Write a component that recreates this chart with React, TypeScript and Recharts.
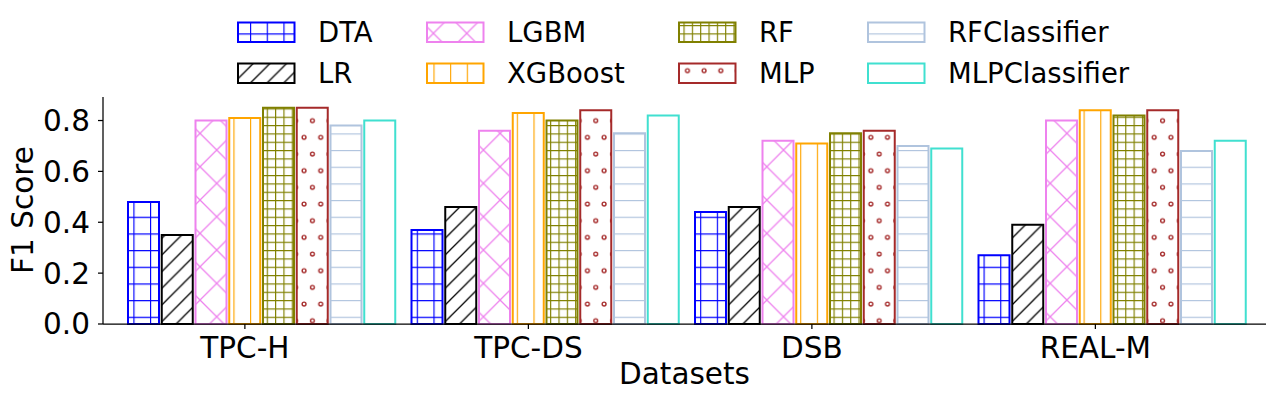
import { BarChart, Bar, XAxis, YAxis } from "recharts";

// categories and series
const datasets = ["TPC-H", "TPC-DS", "DSB", "REAL-M"];
const models = ["DTA", "LR", "LGBM", "XGBoost", "RF", "MLP", "RFClassifier", "MLPClassifier"];

const dta = [0.48, 0.37, 0.44, 0.27];
const lr = [0.35, 0.46, 0.46, 0.39];
const lgbm = [0.8, 0.76, 0.72, 0.8];
const xgboost = [0.81, 0.83, 0.71, 0.84];
const rf = [0.85, 0.8, 0.75, 0.82];
const mlp = [0.85, 0.84, 0.76, 0.84];
const rfClassifier = [0.78, 0.75, 0.7, 0.68];
const mlpClassifier = [0.8, 0.82, 0.69, 0.72];

const yTicks = [0, 0.2, 0.4, 0.6, 0.8];

const series = [dta, lr, lgbm, xgboost, rf, mlp, rfClassifier, mlpClassifier];
const colors = ["#0000ff", "#000000", "#ee82ee", "#ffa500", "#808000", "#a52a2a", "#b0c4de", "#40e0d0"];
const keys = ["dta", "lr", "lgbm", "xgb", "rf", "mlp", "rfc", "mlpc"];

const data = datasets.map((name, i) => {
  const row: Record<string, string | number> = { name };
  keys.forEach((k, j) => {
    row[k] = series[j][i];
  });
  return row;
});

const FONT = "DejaVu Sans, sans-serif";
const W = 1276;
const H = 401;
const X_AXIS_H = 77;
const AXIS_Y = H - X_AXIS_H;
const S = 16.67;
const BAR = 31;
const GAP = 2.75;
// ticks sit under the 4th bar of each group (XGBoost), half a bar pitch left of centre
const TICK_SHIFT = -(BAR + GAP) / 2;

function Patterns({ prefix }: { prefix: string }) {
  const hw = 1.3;
  return (
    <defs>
      <pattern id={`${prefix}-dta`} patternUnits="userSpaceOnUse" width={S} height={S}>
        <rect width={S} height={S} fill="#fff" />
        <path d={`M0.5 0 V${S} M0 0.5 H${S}`} stroke={colors[0]} strokeWidth={hw} />
      </pattern>
      <pattern id={`${prefix}-lr`} patternUnits="userSpaceOnUse" width={S} height={S}>
        <rect width={S} height={S} fill="#fff" />
        <path
          d={`M0 ${S} L${S} 0 M-2 2 L2 -2 M${S - 2} ${S + 2} L${S + 2} ${S - 2}`}
          stroke={colors[1]}
          strokeWidth={hw}
        />
      </pattern>
      <pattern id={`${prefix}-lgbm`} patternUnits="userSpaceOnUse" width={2 * S} height={2 * S}>
        <rect width={2 * S} height={2 * S} fill="#fff" />
        <path
          d={`M0 ${2 * S} L${2 * S} 0 M0 0 L${2 * S} ${2 * S}`}
          stroke={colors[2]}
          strokeWidth={hw}
        />
      </pattern>
      <pattern id={`${prefix}-xgb`} patternUnits="userSpaceOnUse" width={S} height={S}>
        <rect width={S} height={S} fill="#fff" />
        <path d={`M0.5 0 V${S}`} stroke={colors[3]} strokeWidth={hw} />
      </pattern>
      <pattern id={`${prefix}-rf`} patternUnits="userSpaceOnUse" width={S / 2} height={S / 2}>
        <rect width={S / 2} height={S / 2} fill="#fff" />
        <path d={`M0.5 0 V${S / 2} M0 0.5 H${S / 2}`} stroke={colors[4]} strokeWidth={hw} />
      </pattern>
      <pattern id={`${prefix}-mlp`} patternUnits="userSpaceOnUse" width={S} height={2 * S}>
        <rect width={S} height={2 * S} fill="#fff" />
        <circle cx={4} cy={4} r={1.9} fill="none" stroke={colors[5]} strokeWidth={1.4} />
        <circle cx={4 + S / 2} cy={4 + S} r={1.9} fill="none" stroke={colors[5]} strokeWidth={1.4} />
      </pattern>
      <pattern id={`${prefix}-rfc`} patternUnits="userSpaceOnUse" width={S} height={S}>
        <rect width={S} height={S} fill="#fff" />
        <path d={`M0 0.5 H${S}`} stroke={colors[6]} strokeWidth={hw} />
      </pattern>
      <pattern id={`${prefix}-mlpc`} patternUnits="userSpaceOnUse" width={S} height={S}>
        <rect width={S} height={S} fill="#fff" />
      </pattern>
    </defs>
  );
}

function DatasetTick(props: any) {
  const { x, payload } = props;
  const tx = x + TICK_SHIFT;
  return (
    <g>
      <line x1={tx} x2={tx} y1={AXIS_Y} y2={AXIS_Y + 5} stroke="#000" strokeWidth={1.25} />
      <text
        x={tx}
        y={AXIS_Y + 13}
        dy="0.71em"
        textAnchor="middle"
        fontSize={29.5}
        fontFamily={FONT}
        fill="#000"
      >
        {payload.value}
      </text>
    </g>
  );
}

// legend layout: 4 columns x 2 rows, filled column by column
const legendSwatchX = [238, 427, 679, 868];
const legendTextX = [318, 507, 759, 948];
const legendRowY = [22.5, 63.5];

export default function App() {
  return (
    <div style={{ position: "absolute", left: 0, top: 0, width: W, height: H, background: "#fff" }}>
      <BarChart
        width={W}
        height={H}
        data={data}
        margin={{ top: 97, right: 10, bottom: 0, left: 0 }}
        barSize={BAR}
        barGap={GAP}
      >
        <Patterns prefix="bar" />
        <XAxis
          dataKey="name"
          height={X_AXIS_H}
          padding={{ left: 17, right: 12 }}
          axisLine={{ stroke: "#000", strokeWidth: 1.25 }}
          tickLine={false}
          tick={<DatasetTick />}
          interval={0}
        />
        <YAxis
          width={103}
          domain={[0, 0.8925]}
          ticks={yTicks}
          interval={0}
          tickFormatter={(v: number) => v.toFixed(1)}
          tickSize={5}
          tickMargin={8}
          axisLine={{ stroke: "#000", strokeWidth: 1.25 }}
          tickLine={{ stroke: "#000", strokeWidth: 1.25 }}
          tick={{ fill: "#000", fontSize: 29.5, fontFamily: FONT }}
        />
        {keys.map((k, j) => (
          <Bar
            key={k}
            dataKey={k}
            name={models[j]}
            fill={`url(#bar-${k})`}
            stroke={colors[j]}
            strokeWidth={2}
            isAnimationActive={false}
          />
        ))}
      </BarChart>

      {/* Legend and axis titles */}
      <svg
        width={W}
        height={H}
        style={{ position: "absolute", left: 0, top: 0, pointerEvents: "none" }}
      >
        <Patterns prefix="leg" />
        {models.map((m, j) => {
          const col = Math.floor(j / 2);
          const row = j % 2;
          const y = legendRowY[row];
          return (
            <g key={m}>
              <rect
                x={legendSwatchX[col]}
                y={y}
                width={56.5}
                height={19.5}
                fill={`url(#leg-${keys[j]})`}
                stroke={colors[j]}
                strokeWidth={2}
              />
              <text x={legendTextX[col]} y={y + 19.5} fontSize={27.5} fontFamily={FONT} fill="#000">
                {m}
              </text>
            </g>
          );
        })}
        <text
          transform="translate(33,210) rotate(-90)"
          textAnchor="middle"
          fontSize={29.5}
          fontFamily={FONT}
          fill="#000"
        >
          F1 Score
        </text>
        <text x={684.5} y={383.5} textAnchor="middle" fontSize={29.5} fontFamily={FONT} fill="#000">
          Datasets
        </text>
      </svg>
    </div>
  );
}
